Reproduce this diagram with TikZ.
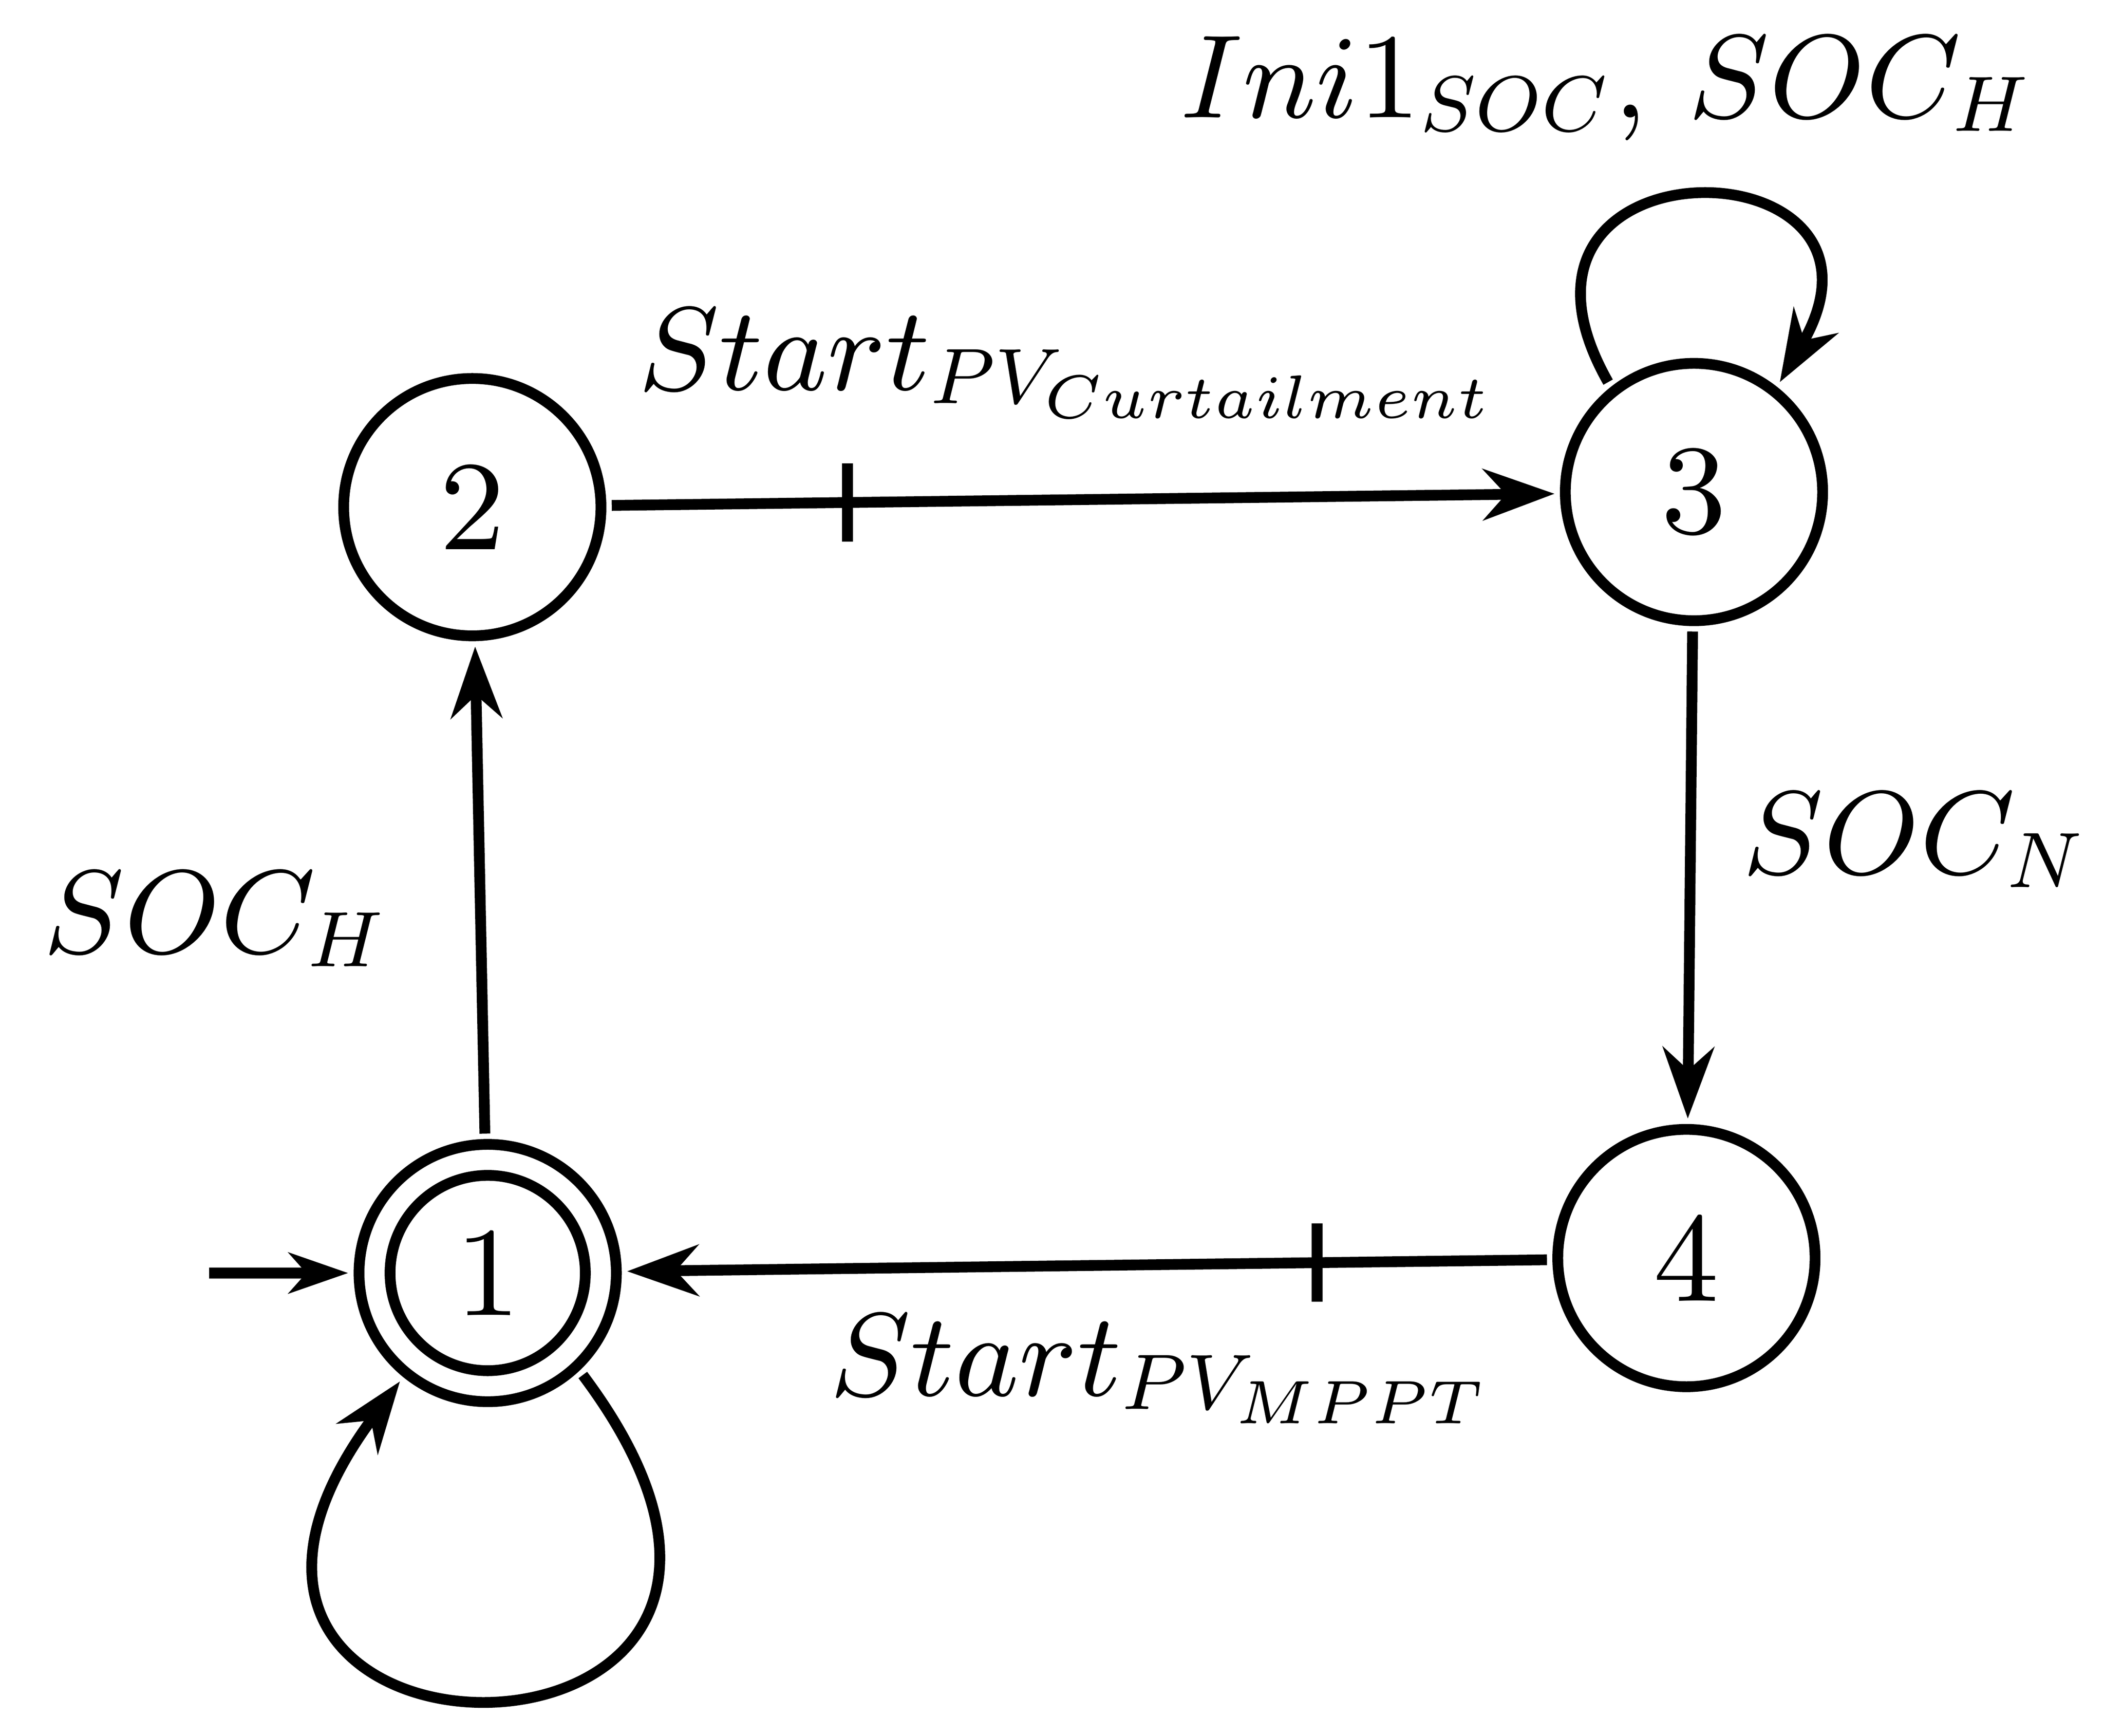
\documentclass[tikz,border=0pt]{standalone}
\usetikzlibrary{arrows.meta}
\DeclareFontShape{OML}{cmm}{m}{it}{<-5> cmmi6 <5-7> cmmi8 <7-> cmmi9}{\skewchar\font=127}
\DeclareMathSizes{8.8}{8.8}{5.84}{4.55}
\begin{document}
\begin{tikzpicture}[x=0.1pt,y=-0.1pt,
  state/.style={circle,draw,line width=0.8pt,minimum size=19.08pt,inner sep=0pt,outer sep=0.8pt,font=\fontsize{9.45pt}{11pt}\selectfont},
  innerring/.style={circle,draw,line width=0.8pt,minimum size=14.48pt,inner sep=0pt},
  arr/.style={line width=0.8pt,-{Stealth[length=5.3pt,width=3.8pt,inset=1.7pt]}},
  initarr/.style={line width=0.8pt,-{Stealth[length=4.4pt,width=3pt,inset=1.3pt]}},
  tickmark/.style={line width=0.8pt},
  lbl/.style={inner sep=0pt,anchor=base west,font=\fontsize{8.8pt}{10pt}\selectfont}]
\useasboundingbox (0,0) rectangle (1560,1286.85);
\node[state] (n1) at (361.6,943.8) {1};
\node[innerring] (n1in) at (n1.center) {};
\node[state] (n2) at (350.2,376.0) {2};
\node[state] (n3) at (1256.0,364.8) {3};
\node[state] (n4) at (1250.4,932.7) {4};
\coordinate (init) at (155,943.8);
\draw[initarr] (init) -- (n1);
\draw[arr] (n1) -- (n2);
\draw[arr] (n2) -- coordinate[pos=0.25] (t23) (n3);
\draw[arr] (n3) -- (n4);
\draw[arr] (n4) -- coordinate[pos=0.25] (t41) (n1);
\draw[tickmark] ([yshift=2.9pt]t23) -- ([yshift=-2.9pt]t23);
\draw[tickmark] ([yshift=2.9pt]t41) -- ([yshift=-2.9pt]t41);
\draw[arr] (n1.-47) .. controls +(240,320) and +(-232,312) .. (n1.-129);
\draw[arr] (n3.128) .. controls +(-105,-185) and +(105,-180) .. (n3.52);
\node[lbl] (lab3) at (873,87.2) {$Ini1_{SOC}$, $SOC_H$};
\node[lbl] (lab23) at (471,289.2) {$Start_{PV_{Curtailment}}$};
\node[lbl] (lab41) at (613,1034.9) {$Start_{PV_{MPPT}}$};
\node[lbl] (lab12) at (30,706.5) {$SOC_H$};
\node[lbl] (lab34) at (1290,648) {$SOC_N$};
\end{tikzpicture}
\end{document}
